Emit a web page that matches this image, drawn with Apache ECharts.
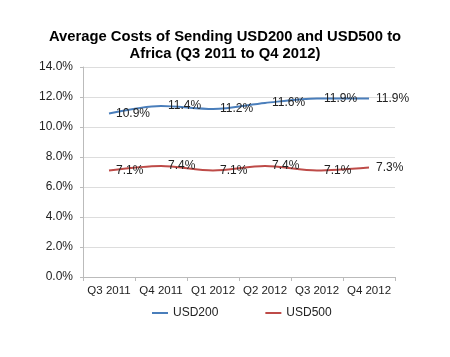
<!DOCTYPE html>
<html><head><meta charset="utf-8">
<script src="https://cdn.jsdelivr.net/npm/echarts@6/dist/echarts.min.js"></script>
<style>html,body{margin:0;padding:0;background:#fff}#c{width:450px;height:357px}</style>
</head><body><div id="c"></div>
<script>
const categories = ['Q3 2011','Q4 2011','Q1 2012','Q2 2012','Q3 2012','Q4 2012'];
const usd200 = [10.9, 11.4, 11.2, 11.6, 11.9, 11.9];
const usd500 = [7.1, 7.4, 7.1, 7.4, 7.1, 7.3];
const yTicks = [0, 2, 4, 6, 8, 10, 12, 14];
const seriesNames = ['USD200', 'USD500'];
const FONT = 'Liberation Sans, Arial, sans-serif';
const chart = echarts.init(document.getElementById('c'));
const label = {show:true, position:'right', distance:7, color:'#222', fontFamily:FONT, fontSize:12, opacity:1,
  formatter: p => p.value.toFixed(1) + '%'};
chart.setOption({
  animation:false,
  color:['#4a7ebb','#be4b48'],
  title:{text:'Average Costs of Sending USD200 and USD500 to\nAfrica (Q3 2011 to Q4 2012)', left:'center', top:23,
    textStyle:{fontFamily:FONT, fontSize:14.8, fontWeight:'bold', color:'#000', lineHeight:17}},
  grid:{left:83, right:55, top:67, bottom:80, containLabel:false},
  legend:{data:seriesNames, bottom:33, left:147, itemGap:47, itemWidth:16, itemHeight:2, icon:'rect',
    textStyle:{fontFamily:FONT, fontSize:12, color:'#222'}},
  xAxis:{type:'category', data:categories, boundaryGap:true,
    axisLine:{lineStyle:{color:'#bbb'}}, axisTick:{show:true, length:4, lineStyle:{color:'#bbb'}},
    axisLabel:{fontFamily:FONT, fontSize:11.5, color:'#222', margin:8, interval:0}},
  yAxis:{type:'value', min:yTicks[0], max:yTicks[yTicks.length-1], interval:2,
    axisLine:{show:true, lineStyle:{color:'#bbb'}}, axisTick:{show:true, length:3, lineStyle:{color:'#bbb'}},
    splitLine:{lineStyle:{color:'#ddd'}},
    axisLabel:{fontFamily:FONT, fontSize:12, color:'#222', margin:10, formatter: v => v.toFixed(1) + '%'}},
  series:[
    {name:seriesNames[0], type:'line', data:usd200, smooth:0.3, symbol:'circle', symbolSize:0, showAllSymbol:true, lineStyle:{width:1.8}, label},
    {name:seriesNames[1], type:'line', data:usd500, smooth:0.3, symbol:'circle', symbolSize:0, showAllSymbol:true, lineStyle:{width:1.8}, label}
  ]
});
</script></body></html>
